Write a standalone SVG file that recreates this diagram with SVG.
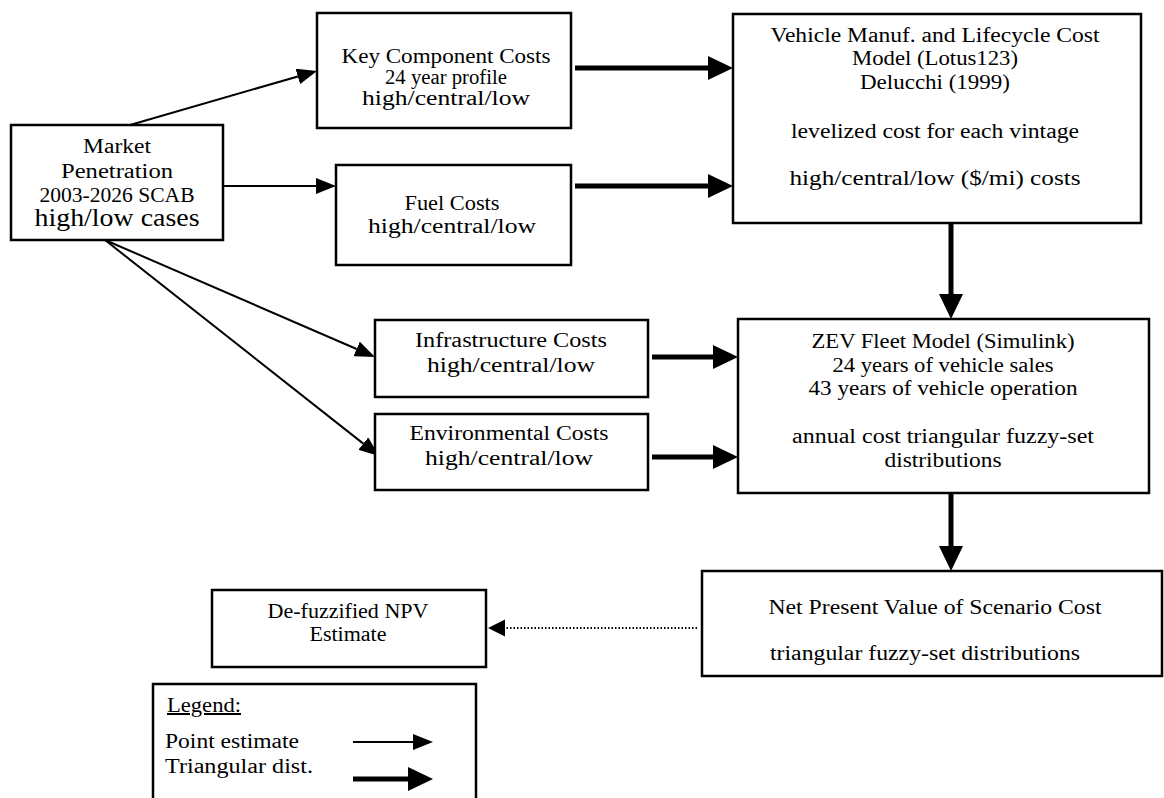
<svg xmlns="http://www.w3.org/2000/svg" width="1164" height="798" viewBox="0 0 1164 798">
<style>
.box{fill:#fff;stroke:#000;stroke-width:2.5}
text{font-family:"Liberation Serif","Times New Roman",serif;font-size:20px;fill:#000;text-anchor:middle}
.big{font-size:25px}
.lg{text-anchor:start}
.thin{stroke:#000;stroke-width:2;fill:none}
.thick{stroke:#000;stroke-width:5;fill:none}
.dot{stroke:#000;stroke-width:2;fill:none;stroke-dasharray:1.5 2}
</style>
<defs>
<marker id="ah" markerUnits="userSpaceOnUse" markerWidth="20" markerHeight="16" refX="0" refY="8" orient="auto"><path d="M0,0 L20,8 L0,16 Z" fill="#000"/></marker>
<marker id="ahb" markerUnits="userSpaceOnUse" markerWidth="25" markerHeight="24" refX="0" refY="12" orient="auto"><path d="M0,0 L25,12 L0,24 Z" fill="#000"/></marker>
</defs>
<g id="connectors">
<path class="thin" d="M130,125 L297.8,76.5" marker-end="url(#ah)"/>
<path class="thin" d="M223,186 L316,186" marker-end="url(#ah)"/>
<path class="thin" d="M105,240 L356.6,349" marker-end="url(#ah)"/>
<path class="thin" d="M105,240 L363.3,443.6" marker-end="url(#ah)"/>
<path class="thick" d="M575,68 L708,68" marker-end="url(#ahb)"/>
<path class="thick" d="M575,186 L708,186" marker-end="url(#ahb)"/>
<path class="thick" d="M951,223 L951,294" marker-end="url(#ahb)"/>
<path class="thick" d="M652,357 L713,357" marker-end="url(#ahb)"/>
<path class="thick" d="M652,457 L713,457" marker-end="url(#ahb)"/>
<path class="thick" d="M951,493 L951,546" marker-end="url(#ahb)"/>
<path class="dot" d="M697,628 L505,628"/>
<path d="M505,619.5 L488,628 L505,636.5 Z" fill="#000"/>
</g>
<g id="market">
<rect class="box" x="11" y="125" width="212" height="115"/>
<text x="117" y="153" textLength="68" lengthAdjust="spacingAndGlyphs">Market</text>
<text x="117" y="178" textLength="112" lengthAdjust="spacingAndGlyphs">Penetration</text>
<text x="117" y="202" textLength="155" lengthAdjust="spacingAndGlyphs">2003-2026 SCAB</text>
<text class="big" x="117" y="226" textLength="165" lengthAdjust="spacingAndGlyphs">high/low cases</text>
</g>
<g id="key">
<rect class="box" x="317" y="13" width="254" height="115"/>
<text x="446" y="63" textLength="209" lengthAdjust="spacingAndGlyphs">Key Component Costs</text>
<text x="446" y="84" textLength="122" lengthAdjust="spacingAndGlyphs">24 year profile</text>
<text x="446" y="105" textLength="168" lengthAdjust="spacingAndGlyphs">high/central/low</text>
</g>
<g id="fuel">
<rect class="box" x="336" y="165" width="235" height="100"/>
<text x="452" y="210" textLength="95" lengthAdjust="spacingAndGlyphs">Fuel Costs</text>
<text x="452" y="233" textLength="168" lengthAdjust="spacingAndGlyphs">high/central/low</text>
</g>
<g id="vehicle">
<rect class="box" x="733" y="14" width="408" height="209"/>
<text x="935" y="42" textLength="329" lengthAdjust="spacingAndGlyphs">Vehicle Manuf. and Lifecycle Cost</text>
<text x="935" y="65" textLength="166" lengthAdjust="spacingAndGlyphs">Model (Lotus123)</text>
<text x="935" y="89" textLength="150" lengthAdjust="spacingAndGlyphs">Delucchi (1999)</text>
<text x="935" y="138" textLength="288" lengthAdjust="spacingAndGlyphs">levelized cost for each vintage</text>
<text x="935" y="185" textLength="291" lengthAdjust="spacingAndGlyphs">high/central/low ($/mi) costs</text>
</g>
<g id="infra">
<rect class="box" x="375" y="320" width="273" height="77"/>
<text x="511" y="347" textLength="192" lengthAdjust="spacingAndGlyphs">Infrastructure Costs</text>
<text x="511" y="372" textLength="168" lengthAdjust="spacingAndGlyphs">high/central/low</text>
</g>
<g id="env">
<rect class="box" x="375" y="414" width="273" height="76"/>
<text x="509" y="440" textLength="199" lengthAdjust="spacingAndGlyphs">Environmental Costs</text>
<text x="509" y="465" textLength="168" lengthAdjust="spacingAndGlyphs">high/central/low</text>
</g>
<g id="zev">
<rect class="box" x="738" y="319" width="411" height="174"/>
<text x="943" y="348" textLength="263" lengthAdjust="spacingAndGlyphs">ZEV Fleet Model (Simulink)</text>
<text x="943" y="372" textLength="221" lengthAdjust="spacingAndGlyphs">24 years of vehicle sales</text>
<text x="943" y="395" textLength="269" lengthAdjust="spacingAndGlyphs">43 years of vehicle operation</text>
<text x="943" y="443" textLength="302" lengthAdjust="spacingAndGlyphs">annual cost triangular fuzzy-set</text>
<text x="943" y="467" textLength="117" lengthAdjust="spacingAndGlyphs">distributions</text>
</g>
<g id="npv">
<rect class="box" x="702" y="571" width="460" height="105"/>
<text x="935" y="614" textLength="333" lengthAdjust="spacingAndGlyphs">Net Present Value of Scenario Cost</text>
<text x="925" y="660" textLength="310" lengthAdjust="spacingAndGlyphs">triangular fuzzy-set distributions</text>
</g>
<g id="defuzz">
<rect class="box" x="212" y="590" width="274" height="77"/>
<text x="348" y="618" textLength="161" lengthAdjust="spacingAndGlyphs">De-fuzzified NPV</text>
<text x="348" y="641" textLength="77" lengthAdjust="spacingAndGlyphs">Estimate</text>
</g>
<g id="legend">
<rect class="box" x="153" y="684" width="323" height="130"/>
<text class="lg" x="167" y="712" text-decoration="underline" textLength="74" lengthAdjust="spacingAndGlyphs">Legend:</text>
<text class="lg" x="165" y="748" textLength="134" lengthAdjust="spacingAndGlyphs">Point estimate</text>
<text class="lg" x="165" y="773" textLength="148" lengthAdjust="spacingAndGlyphs">Triangular dist.</text>
<path class="thin" d="M353,742 L413,742" marker-end="url(#ah)"/>
<path class="thick" d="M353,779 L408,779" marker-end="url(#ahb)"/>
</g>
</svg>
